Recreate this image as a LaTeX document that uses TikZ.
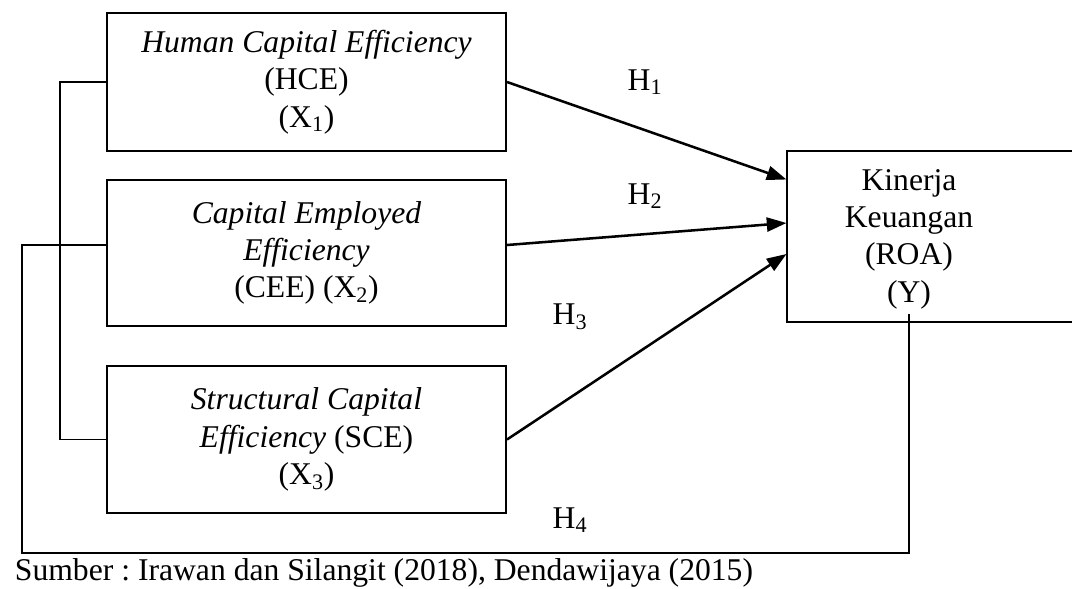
\documentclass[tikz,border=0pt]{standalone}
\usepackage{fontspec}
\setmainfont{Liberation Serif}
\usetikzlibrary{arrows.meta,calc}
\frenchspacing

\tikzset{
  varbox/.style={draw, line width=1.4pt, minimum width=9.975cm, align=center, inner sep=0pt},
  hyp/.style={line width=1.8pt, -{Triangle[length=14pt,width=10pt]}},
  bracket/.style={line width=1.3pt},
}

\begin{document}
\begin{tikzpicture}[x=0.025cm, y=-0.025cm, font=\fontsize{22.5}{26.5}\selectfont]

\useasboundingbox (0,0) rectangle (1072,588);

% independent variables
\node[varbox, minimum height=3.45cm]  (hce) at (306.5,82)    {\textit{Human Capital Efficiency}\\(HCE)\\(X\textsubscript{1})};
\node[varbox, minimum height=3.65cm]  (cee) at (306.5,253)   {\textit{Capital Employed}\\\textit{Efficiency}\\(CEE) (X\textsubscript{2})};
\node[varbox, minimum height=3.675cm] (sce) at (306.5,439.5) {\textit{Structural Capital}\\\textit{Efficiency} (SCE)\\(X\textsubscript{3})};

% dependent variable
\node[draw, line width=1.4pt, minimum width=7.7cm, minimum height=4.275cm] (kin) at (941.5,236.5) {};
\node[align=center] (roa) at (909,239) {Kinerja\\Keuangan\\(ROA)\\(Y)};

\node (h1) at (645,82)  {H\textsubscript{1}};
\node (h2) at (645,196) {H\textsubscript{2}};
\node (h3) at (570,317) {H\textsubscript{3}};
\node (h4) at (570,520) {H\textsubscript{4}};

\draw[hyp] (hce.east) -- ($(kin.west)+(0,-57)$);
\draw[hyp] ($(cee.east)+(0,-8)$) -- ($(kin.west)+(0,-13.5)$);
\draw[hyp] (sce.east) -- ($(kin.west)+(0,17.5)$);

% simultaneous
\draw[bracket] (hce.west) -- ++(-46,0) |- (sce.west);
\coordinate (corner) at (22,553);
\draw[bracket] ($(cee.west)+(0,-8)$) -| (corner) -| (roa.south);

\node[anchor=base west] (src) at (10,580) {Sumber : Irawan dan Silangit (2018), Dendawijaya (2015)};

\end{tikzpicture}
\end{document}
